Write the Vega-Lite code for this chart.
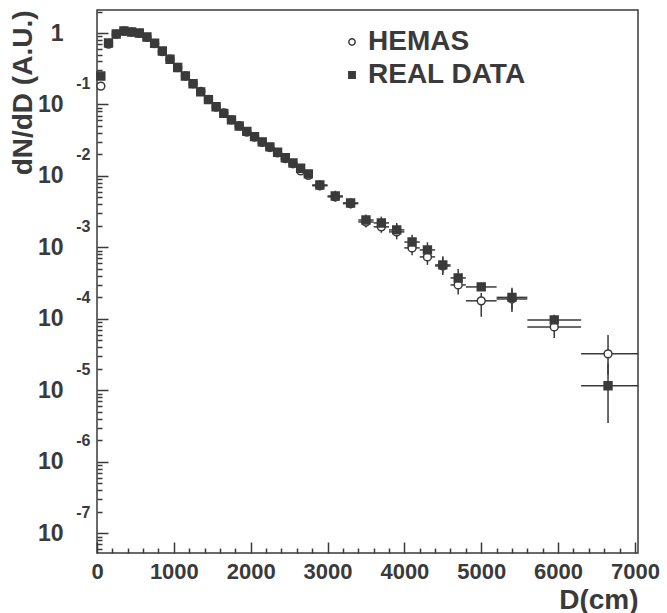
{
  "$schema": "https://vega.github.io/schema/vega-lite/v6.json",
  "width": 541,
  "height": 543,
  "autosize": {"type": "none"},
  "padding": {"left": 97, "top": 10, "right": 29, "bottom": 60},
  "background": "white",
  "config": {
    "font": "Liberation Sans",
    "view": {"stroke": "#3a3a3a", "strokeWidth": 1.5},
    "axis": {
      "grid": false, "domain": false,
      "labelFont": "Liberation Sans", "labelFontWeight": "bold", "labelColor": "#3a3a3a",
      "tickColor": "#3a3a3a", "tickWidth": 1.5,
      "labelFlush": false, "labelOverlap": false, "labelBound": false,
      "titleFont": "Liberation Sans", "titleFontWeight": "bold", "titleColor": "#3a3a3a", "titleFontSize": 28
    },
    "legend": {
      "title": null, "orient": "none", "legendX": 241, "legendY": 18, "padding": 0,
      "labelFontSize": 28, "labelFont": "Liberation Sans", "labelFontWeight": "bold", "labelColor": "#3a3a3a",
      "symbolSize": 40, "symbolStrokeWidth": 1.5, "labelOffset": 2, "rowPadding": 5
    }
  },
  "data": {"values": [
    {"s": "HEMAS", "D": 50, "dlo": 0, "dhi": 100, "v": 0.181, "vlo": 0.181, "vhi": 0.181},
    {"s": "HEMAS", "D": 150, "dlo": 100, "dhi": 200, "v": 0.70, "vlo": 0.70, "vhi": 0.70},
    {"s": "HEMAS", "D": 250, "dlo": 200, "dhi": 300, "v": 0.96, "vlo": 0.96, "vhi": 0.96},
    {"s": "HEMAS", "D": 350, "dlo": 300, "dhi": 400, "v": 1.06, "vlo": 1.06, "vhi": 1.06},
    {"s": "HEMAS", "D": 450, "dlo": 400, "dhi": 500, "v": 1.03, "vlo": 1.03, "vhi": 1.03},
    {"s": "HEMAS", "D": 550, "dlo": 500, "dhi": 600, "v": 0.99, "vlo": 0.99, "vhi": 0.99},
    {"s": "HEMAS", "D": 650, "dlo": 600, "dhi": 700, "v": 0.87, "vlo": 0.87, "vhi": 0.87},
    {"s": "HEMAS", "D": 750, "dlo": 700, "dhi": 800, "v": 0.71, "vlo": 0.71, "vhi": 0.71},
    {"s": "HEMAS", "D": 850, "dlo": 800, "dhi": 900, "v": 0.55, "vlo": 0.55, "vhi": 0.55},
    {"s": "HEMAS", "D": 950, "dlo": 900, "dhi": 1000, "v": 0.43, "vlo": 0.43, "vhi": 0.43},
    {"s": "HEMAS", "D": 1050, "dlo": 1000, "dhi": 1100, "v": 0.33, "vlo": 0.33, "vhi": 0.33},
    {"s": "HEMAS", "D": 1150, "dlo": 1100, "dhi": 1200, "v": 0.25, "vlo": 0.25, "vhi": 0.25},
    {"s": "HEMAS", "D": 1250, "dlo": 1200, "dhi": 1300, "v": 0.195, "vlo": 0.195, "vhi": 0.195},
    {"s": "HEMAS", "D": 1350, "dlo": 1300, "dhi": 1400, "v": 0.152, "vlo": 0.152, "vhi": 0.152},
    {"s": "HEMAS", "D": 1450, "dlo": 1400, "dhi": 1500, "v": 0.118, "vlo": 0.118, "vhi": 0.118},
    {"s": "HEMAS", "D": 1550, "dlo": 1500, "dhi": 1600, "v": 0.092, "vlo": 0.092, "vhi": 0.092},
    {"s": "HEMAS", "D": 1650, "dlo": 1600, "dhi": 1700, "v": 0.076, "vlo": 0.076, "vhi": 0.076},
    {"s": "HEMAS", "D": 1750, "dlo": 1700, "dhi": 1800, "v": 0.061, "vlo": 0.061, "vhi": 0.061},
    {"s": "HEMAS", "D": 1850, "dlo": 1800, "dhi": 1900, "v": 0.050, "vlo": 0.050, "vhi": 0.050},
    {"s": "HEMAS", "D": 1950, "dlo": 1900, "dhi": 2000, "v": 0.041, "vlo": 0.041, "vhi": 0.041},
    {"s": "HEMAS", "D": 2050, "dlo": 2000, "dhi": 2100, "v": 0.035, "vlo": 0.035, "vhi": 0.035},
    {"s": "HEMAS", "D": 2150, "dlo": 2100, "dhi": 2200, "v": 0.0295, "vlo": 0.0295, "vhi": 0.0295},
    {"s": "HEMAS", "D": 2250, "dlo": 2200, "dhi": 2300, "v": 0.025, "vlo": 0.025, "vhi": 0.025},
    {"s": "HEMAS", "D": 2350, "dlo": 2300, "dhi": 2400, "v": 0.021, "vlo": 0.021, "vhi": 0.021},
    {"s": "HEMAS", "D": 2450, "dlo": 2400, "dhi": 2500, "v": 0.0175, "vlo": 0.0175, "vhi": 0.0175},
    {"s": "HEMAS", "D": 2550, "dlo": 2500, "dhi": 2600, "v": 0.0148, "vlo": 0.0148, "vhi": 0.0148},
    {"s": "HEMAS", "D": 2650, "dlo": 2600, "dhi": 2700, "v": 0.0118, "vlo": 0.0118, "vhi": 0.0118},
    {"s": "HEMAS", "D": 2750, "dlo": 2700, "dhi": 2800, "v": 0.0102, "vlo": 0.0102, "vhi": 0.0102},
    {"s": "HEMAS", "D": 2900, "dlo": 2800, "dhi": 3000, "v": 0.0073, "vlo": 0.0063, "vhi": 0.0085},
    {"s": "HEMAS", "D": 3100, "dlo": 3000, "dhi": 3200, "v": 0.0051, "vlo": 0.0044, "vhi": 0.0060},
    {"s": "HEMAS", "D": 3300, "dlo": 3200, "dhi": 3400, "v": 0.0041, "vlo": 0.0035, "vhi": 0.0048},
    {"s": "HEMAS", "D": 3500, "dlo": 3400, "dhi": 3600, "v": 0.00227, "vlo": 0.0019, "vhi": 0.0027},
    {"s": "HEMAS", "D": 3700, "dlo": 3600, "dhi": 3800, "v": 0.00194, "vlo": 0.0016, "vhi": 0.0024},
    {"s": "HEMAS", "D": 3900, "dlo": 3800, "dhi": 4000, "v": 0.00165, "vlo": 0.0013, "vhi": 0.0021},
    {"s": "HEMAS", "D": 4100, "dlo": 4000, "dhi": 4200, "v": 0.000985, "vlo": 0.00078, "vhi": 0.00125},
    {"s": "HEMAS", "D": 4300, "dlo": 4200, "dhi": 4400, "v": 0.000737, "vlo": 0.00057, "vhi": 0.00095},
    {"s": "HEMAS", "D": 4500, "dlo": 4400, "dhi": 4600, "v": 0.00055, "vlo": 0.00041, "vhi": 0.00072},
    {"s": "HEMAS", "D": 4700, "dlo": 4600, "dhi": 4800, "v": 0.000299, "vlo": 0.00022, "vhi": 0.00040},
    {"s": "HEMAS", "D": 5000, "dlo": 4800, "dhi": 5200, "v": 0.000179, "vlo": 0.000107, "vhi": 0.000231},
    {"s": "HEMAS", "D": 5400, "dlo": 5200, "dhi": 5600, "v": 0.000190, "vlo": 0.000125, "vhi": 0.00026},
    {"s": "HEMAS", "D": 5950, "dlo": 5600, "dhi": 6300, "v": 0.0000773, "vlo": 0.0000542, "vhi": 0.000100},
    {"s": "HEMAS", "D": 6650, "dlo": 6300, "dhi": 7040, "v": 0.0000324, "vlo": 0.0000165, "vhi": 0.0000597},
    {"s": "REAL DATA", "D": 50, "dlo": 0, "dhi": 100, "v": 0.250, "vlo": 0.250, "vhi": 0.250},
    {"s": "REAL DATA", "D": 150, "dlo": 100, "dhi": 200, "v": 0.724, "vlo": 0.724, "vhi": 0.724},
    {"s": "REAL DATA", "D": 250, "dlo": 200, "dhi": 300, "v": 0.968, "vlo": 0.968, "vhi": 0.968},
    {"s": "REAL DATA", "D": 350, "dlo": 300, "dhi": 400, "v": 1.066, "vlo": 1.066, "vhi": 1.066},
    {"s": "REAL DATA", "D": 450, "dlo": 400, "dhi": 500, "v": 1.033, "vlo": 1.033, "vhi": 1.033},
    {"s": "REAL DATA", "D": 550, "dlo": 500, "dhi": 600, "v": 1.0, "vlo": 1.0, "vhi": 1.0},
    {"s": "REAL DATA", "D": 650, "dlo": 600, "dhi": 700, "v": 0.88, "vlo": 0.88, "vhi": 0.88},
    {"s": "REAL DATA", "D": 750, "dlo": 700, "dhi": 800, "v": 0.72, "vlo": 0.72, "vhi": 0.72},
    {"s": "REAL DATA", "D": 850, "dlo": 800, "dhi": 900, "v": 0.56, "vlo": 0.56, "vhi": 0.56},
    {"s": "REAL DATA", "D": 950, "dlo": 900, "dhi": 1000, "v": 0.43, "vlo": 0.43, "vhi": 0.43},
    {"s": "REAL DATA", "D": 1050, "dlo": 1000, "dhi": 1100, "v": 0.33, "vlo": 0.33, "vhi": 0.33},
    {"s": "REAL DATA", "D": 1150, "dlo": 1100, "dhi": 1200, "v": 0.25, "vlo": 0.25, "vhi": 0.25},
    {"s": "REAL DATA", "D": 1250, "dlo": 1200, "dhi": 1300, "v": 0.195, "vlo": 0.195, "vhi": 0.195},
    {"s": "REAL DATA", "D": 1350, "dlo": 1300, "dhi": 1400, "v": 0.150, "vlo": 0.150, "vhi": 0.150},
    {"s": "REAL DATA", "D": 1450, "dlo": 1400, "dhi": 1500, "v": 0.117, "vlo": 0.117, "vhi": 0.117},
    {"s": "REAL DATA", "D": 1550, "dlo": 1500, "dhi": 1600, "v": 0.093, "vlo": 0.093, "vhi": 0.093},
    {"s": "REAL DATA", "D": 1650, "dlo": 1600, "dhi": 1700, "v": 0.075, "vlo": 0.075, "vhi": 0.075},
    {"s": "REAL DATA", "D": 1750, "dlo": 1700, "dhi": 1800, "v": 0.061, "vlo": 0.061, "vhi": 0.061},
    {"s": "REAL DATA", "D": 1850, "dlo": 1800, "dhi": 1900, "v": 0.050, "vlo": 0.050, "vhi": 0.050},
    {"s": "REAL DATA", "D": 1950, "dlo": 1900, "dhi": 2000, "v": 0.042, "vlo": 0.042, "vhi": 0.042},
    {"s": "REAL DATA", "D": 2050, "dlo": 2000, "dhi": 2100, "v": 0.0355, "vlo": 0.0355, "vhi": 0.0355},
    {"s": "REAL DATA", "D": 2150, "dlo": 2100, "dhi": 2200, "v": 0.030, "vlo": 0.030, "vhi": 0.030},
    {"s": "REAL DATA", "D": 2250, "dlo": 2200, "dhi": 2300, "v": 0.0255, "vlo": 0.0255, "vhi": 0.0255},
    {"s": "REAL DATA", "D": 2350, "dlo": 2300, "dhi": 2400, "v": 0.0215, "vlo": 0.0215, "vhi": 0.0215},
    {"s": "REAL DATA", "D": 2450, "dlo": 2400, "dhi": 2500, "v": 0.018, "vlo": 0.018, "vhi": 0.018},
    {"s": "REAL DATA", "D": 2550, "dlo": 2500, "dhi": 2600, "v": 0.0152, "vlo": 0.0152, "vhi": 0.0152},
    {"s": "REAL DATA", "D": 2650, "dlo": 2600, "dhi": 2700, "v": 0.0128, "vlo": 0.0128, "vhi": 0.0128},
    {"s": "REAL DATA", "D": 2750, "dlo": 2700, "dhi": 2800, "v": 0.0107, "vlo": 0.0107, "vhi": 0.0107},
    {"s": "REAL DATA", "D": 2900, "dlo": 2800, "dhi": 3000, "v": 0.00748, "vlo": 0.0064, "vhi": 0.0087},
    {"s": "REAL DATA", "D": 3100, "dlo": 3000, "dhi": 3200, "v": 0.00525, "vlo": 0.0045, "vhi": 0.0062},
    {"s": "REAL DATA", "D": 3300, "dlo": 3200, "dhi": 3400, "v": 0.00419, "vlo": 0.0036, "vhi": 0.0049},
    {"s": "REAL DATA", "D": 3500, "dlo": 3400, "dhi": 3600, "v": 0.00242, "vlo": 0.0020, "vhi": 0.0029},
    {"s": "REAL DATA", "D": 3700, "dlo": 3600, "dhi": 3800, "v": 0.00220, "vlo": 0.0018, "vhi": 0.0027},
    {"s": "REAL DATA", "D": 3900, "dlo": 3800, "dhi": 4000, "v": 0.00176, "vlo": 0.0014, "vhi": 0.0022},
    {"s": "REAL DATA", "D": 4100, "dlo": 4000, "dhi": 4200, "v": 0.00119, "vlo": 0.00095, "vhi": 0.0015},
    {"s": "REAL DATA", "D": 4300, "dlo": 4200, "dhi": 4400, "v": 0.000923, "vlo": 0.00072, "vhi": 0.00118},
    {"s": "REAL DATA", "D": 4500, "dlo": 4400, "dhi": 4600, "v": 0.000569, "vlo": 0.00043, "vhi": 0.00075},
    {"s": "REAL DATA", "D": 4700, "dlo": 4600, "dhi": 4800, "v": 0.000374, "vlo": 0.00028, "vhi": 0.00050},
    {"s": "REAL DATA", "D": 5000, "dlo": 4800, "dhi": 5200, "v": 0.000280, "vlo": 0.000245, "vhi": 0.00032},
    {"s": "REAL DATA", "D": 5400, "dlo": 5200, "dhi": 5600, "v": 0.000200, "vlo": 0.000135, "vhi": 0.000272},
    {"s": "REAL DATA", "D": 5950, "dlo": 5600, "dhi": 6300, "v": 0.0000968, "vlo": 0.000075, "vhi": 0.000114},
    {"s": "REAL DATA", "D": 6650, "dlo": 6300, "dhi": 7040, "v": 0.0000116, "vlo": 0.0000035, "vhi": 0.000024}
  ]},
  "resolve": {"axis": {"x": "independent", "y": "independent"}},
  "layer": [
    {
      "mark": {"type": "rule", "color": "#3a3a3a", "strokeWidth": 1.5},
      "encoding": {
        "x": {"field": "dlo", "type": "quantitative",
          "scale": {"domain": [0, 7040], "nice": false, "zero": false},
          "axis": {"orient": "bottom", "values": [0, 1000, 2000, 3000, 4000, 5000, 6000, 7000], "format": "d",
            "tickSize": -11, "labelFontSize": 22, "labelPadding": 19,
            "title": "D(cm)", "titleAnchor": "end", "titlePadding": 4}},
        "x2": {"field": "dhi"},
        "y": {"field": "v", "type": "quantitative",
          "scale": {"type": "log", "domain": [5.3e-8, 2.1], "nice": false},
          "axis": {"orient": "left", "values": [1, 0.1, 0.01, 0.001, 0.0001, 0.00001, 0.000001, 0.0000001],
            "tickSize": -11, "labelFontSize": 23, "labelPadding": 45,
            "labelExpr": "datum.value >= 0.5 ? '1' : '10'",
            "title": "dN/dD (A.U.)", "titleAnchor": "end", "titlePadding": 0}}
      }
    },
    {
      "mark": {"type": "rule", "color": "#3a3a3a", "strokeWidth": 1.5},
      "encoding": {
        "x": {"field": "D", "type": "quantitative",
          "scale": {"domain": [0, 7040], "nice": false, "zero": false},
          "axis": {"orient": "bottom", "values": [200, 400, 600, 800, 1200, 1400, 1600, 1800, 2200, 2400, 2600, 2800, 3200, 3400, 3600, 3800, 4200, 4400, 4600, 4800, 5200, 5400, 5600, 5800, 6200, 6400, 6600, 6800],
            "tickSize": -5, "labels": false, "title": null}},
        "y": {"field": "vlo", "type": "quantitative",
          "scale": {"type": "log", "domain": [5.3e-8, 2.1], "nice": false},
          "axis": {"orient": "left", "values": [0.1, 0.01, 0.001, 0.0001, 0.00001, 0.000001, 0.0000001],
            "ticks": false, "labelFontSize": 16, "labelPadding": 7, "labelOffset": -21,
            "labelExpr": "'' + round(log(datum.value) / LN10)", "title": null}},
        "y2": {"field": "vhi"}
      }
    },
    {
      "mark": {"type": "point", "strokeWidth": 1.5, "opacity": 1, "size": 62},
      "encoding": {
        "x": {"field": "D", "type": "quantitative",
          "scale": {"domain": [0, 7040], "nice": false, "zero": false}, "axis": null},
        "y": {"field": "v", "type": "quantitative",
          "scale": {"type": "log", "domain": [5.3e-8, 2.1], "nice": false},
          "axis": {"orient": "left", "values": [2, 0.9, 0.8, 0.7, 0.6, 0.5, 0.4, 0.3, 0.2, 0.09, 0.08, 0.07, 0.06, 0.05, 0.04, 0.03, 0.02, 0.009, 0.008, 0.007, 0.006, 0.005, 0.004, 0.003, 0.002, 0.0009, 0.0008, 0.0007, 0.0006, 0.0005, 0.0004, 0.0003, 0.0002, 0.00009, 0.00008, 0.00007, 0.00006, 0.00005, 0.00004, 0.00003, 0.00002, 0.000009, 0.000008, 0.000007, 0.000006, 0.000005, 0.000004, 0.000003, 0.000002, 9e-7, 8e-7, 7e-7, 6e-7, 5e-7, 4e-7, 3e-7, 2e-7, 9e-8, 8e-8, 7e-8, 6e-8],
            "tickSize": -5, "labels": false, "title": null}},
        "fill": {"field": "s", "type": "nominal",
          "scale": {"domain": ["HEMAS", "REAL DATA"], "range": ["white", "#3a3a3a"]}},
        "stroke": {"field": "s", "type": "nominal",
          "scale": {"domain": ["HEMAS", "REAL DATA"], "range": ["#3a3a3a", "#3a3a3a"]}},
        "shape": {"field": "s", "type": "nominal",
          "scale": {"domain": ["HEMAS", "REAL DATA"], "range": ["circle", "square"]}}
      }
    }
  ]
}
